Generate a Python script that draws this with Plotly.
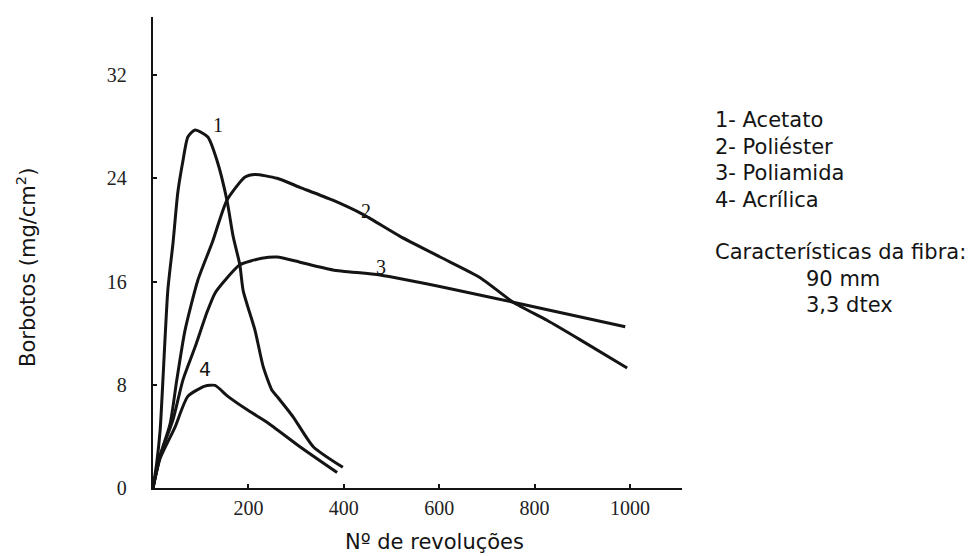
import plotly.graph_objects as go

# Pilling (borbotos) vs number of revolutions for four fibre types
acetato_x = [0, 8, 15, 31, 42, 52, 63, 73, 88, 115, 134, 155, 168, 182, 189, 214, 231, 249, 260, 294, 336, 398]
acetato_y = [0, 2.0, 4.5, 15.3, 19.0, 22.9, 25.4, 27.2, 27.75, 27.2, 25.4, 22.3, 19.5, 17.3, 15.3, 12.2, 9.4, 7.6, 7.1, 5.5, 3.2, 1.6]

poliester_x = [0, 15, 36, 50, 67, 94, 124, 155, 193, 214, 260, 308, 377, 440, 518, 602, 686, 755, 826, 895, 994]
poliester_y = [0, 2.5, 5.0, 8.4, 12.2, 16.1, 19.0, 22.3, 24.1, 24.3, 24.0, 23.3, 22.3, 21.2, 19.5, 17.9, 16.3, 14.4, 13.0, 11.5, 9.3]

poliamida_x = [0, 15, 42, 63, 88, 113, 130, 151, 182, 228, 260, 308, 377, 476, 616, 755, 990]
poliamida_y = [0, 2.5, 5.3, 8.4, 10.9, 13.6, 15.1, 16.1, 17.3, 17.8, 17.9, 17.5, 16.9, 16.5, 15.5, 14.4, 12.5]

acrilica_x = [0, 15, 46, 73, 109, 130, 157, 200, 239, 308, 386]
acrilica_y = [0, 2.3, 4.7, 7.1, 7.9, 7.95, 7.1, 6.0, 5.1, 3.2, 1.2]

# Curve number labels (position in data units)
label_text = ["1", "2", "3", "4"]
label_x = [136, 446, 478, 109]
label_y = [28.1, 21.5, 17.1, 9.2]

x_ticks = [200, 400, 600, 800, 1000]
y_ticks = [0, 8, 16, 24, 32]

legend_lines = ["1- Acetato", "2- Poliéster", "3- Poliamida", "4- Acrílica"]
fibre_title = "Características da fibra:"
fibre_specs = ["90 mm", "3,3 dtex"]

W, H = 975, 556
ml, mr, mt, mb = 153, 293, 17, 68
pw, ph = W - ml - mr, H - mt - mb


def px_to_paper(px, py):
    return (px - ml) / pw, 1 - (py - mt) / ph


fig = go.Figure()
line_style = dict(color="#141414", width=3, shape="spline", smoothing=0.6)
for xs, ys in [(acetato_x, acetato_y), (poliester_x, poliester_y),
               (poliamida_x, poliamida_y), (acrilica_x, acrilica_y)]:
    fig.add_trace(go.Scatter(x=xs, y=ys, mode="lines", line=line_style,
                             showlegend=False, hoverinfo="skip"))

serif = "Liberation Serif"
sans = "DejaVu Sans"
ink = "#141414"

for t, lx, ly in zip(label_text, label_x, label_y):
    fig.add_annotation(x=lx, y=ly, text=t, showarrow=False, xref="x", yref="y",
                       xanchor="center", yanchor="middle",
                       font=dict(family=serif if t != "4" else sans,
                                 size=20 if t != "4" else 19, color=ink))

fig.update_xaxes(range=[0, 1109], tickvals=x_ticks, ticktext=[str(v) for v in x_ticks],
                 showline=True, linecolor=ink, linewidth=2.4, showgrid=False,
                 zeroline=False, ticks="inside", ticklen=4, tickwidth=2, tickcolor=ink,
                 ticklabelstandoff=1,
                 tickfont=dict(family=serif, size=20, color="#222"))
fig.update_yaxes(range=[0, 36.5], tickvals=y_ticks, ticktext=[str(v) for v in y_ticks],
                 showline=True, linecolor=ink, linewidth=2.4, showgrid=False,
                 zeroline=False, ticks="inside", ticklen=4, tickwidth=2, tickcolor=ink,
                 ticklabelstandoff=20,
                 tickfont=dict(family=serif, size=20, color="#222"))


def add_px_text(px, py, text, xanchor="left", angle=0, size=21):
    ax, ay = px_to_paper(px, py)
    fig.add_annotation(x=ax, y=ay, xref="paper", yref="paper", text=text,
                       showarrow=False, xanchor=xanchor, yanchor="middle",
                       textangle=angle, font=dict(family=sans, size=size, color=ink))


# Axis titles
add_px_text(434, 542, "Nº de revoluções", xanchor="center")
add_px_text(26, 268, "Borbotos (mg/cm<sup>2</sup>)", xanchor="center", angle=-90)

# Side notes
for txt, yy in zip(legend_lines, [120, 146.7, 173.3, 200]):
    add_px_text(713, yy, txt)
add_px_text(713, 252, fibre_title)
for txt, yy in zip(fibre_specs, [279, 305]):
    add_px_text(804, yy, txt)

fig.update_layout(width=W, height=H, margin=dict(l=ml, r=mr, t=mt, b=mb),
                  plot_bgcolor="white", paper_bgcolor="white")

fig.write_html("out.html")
